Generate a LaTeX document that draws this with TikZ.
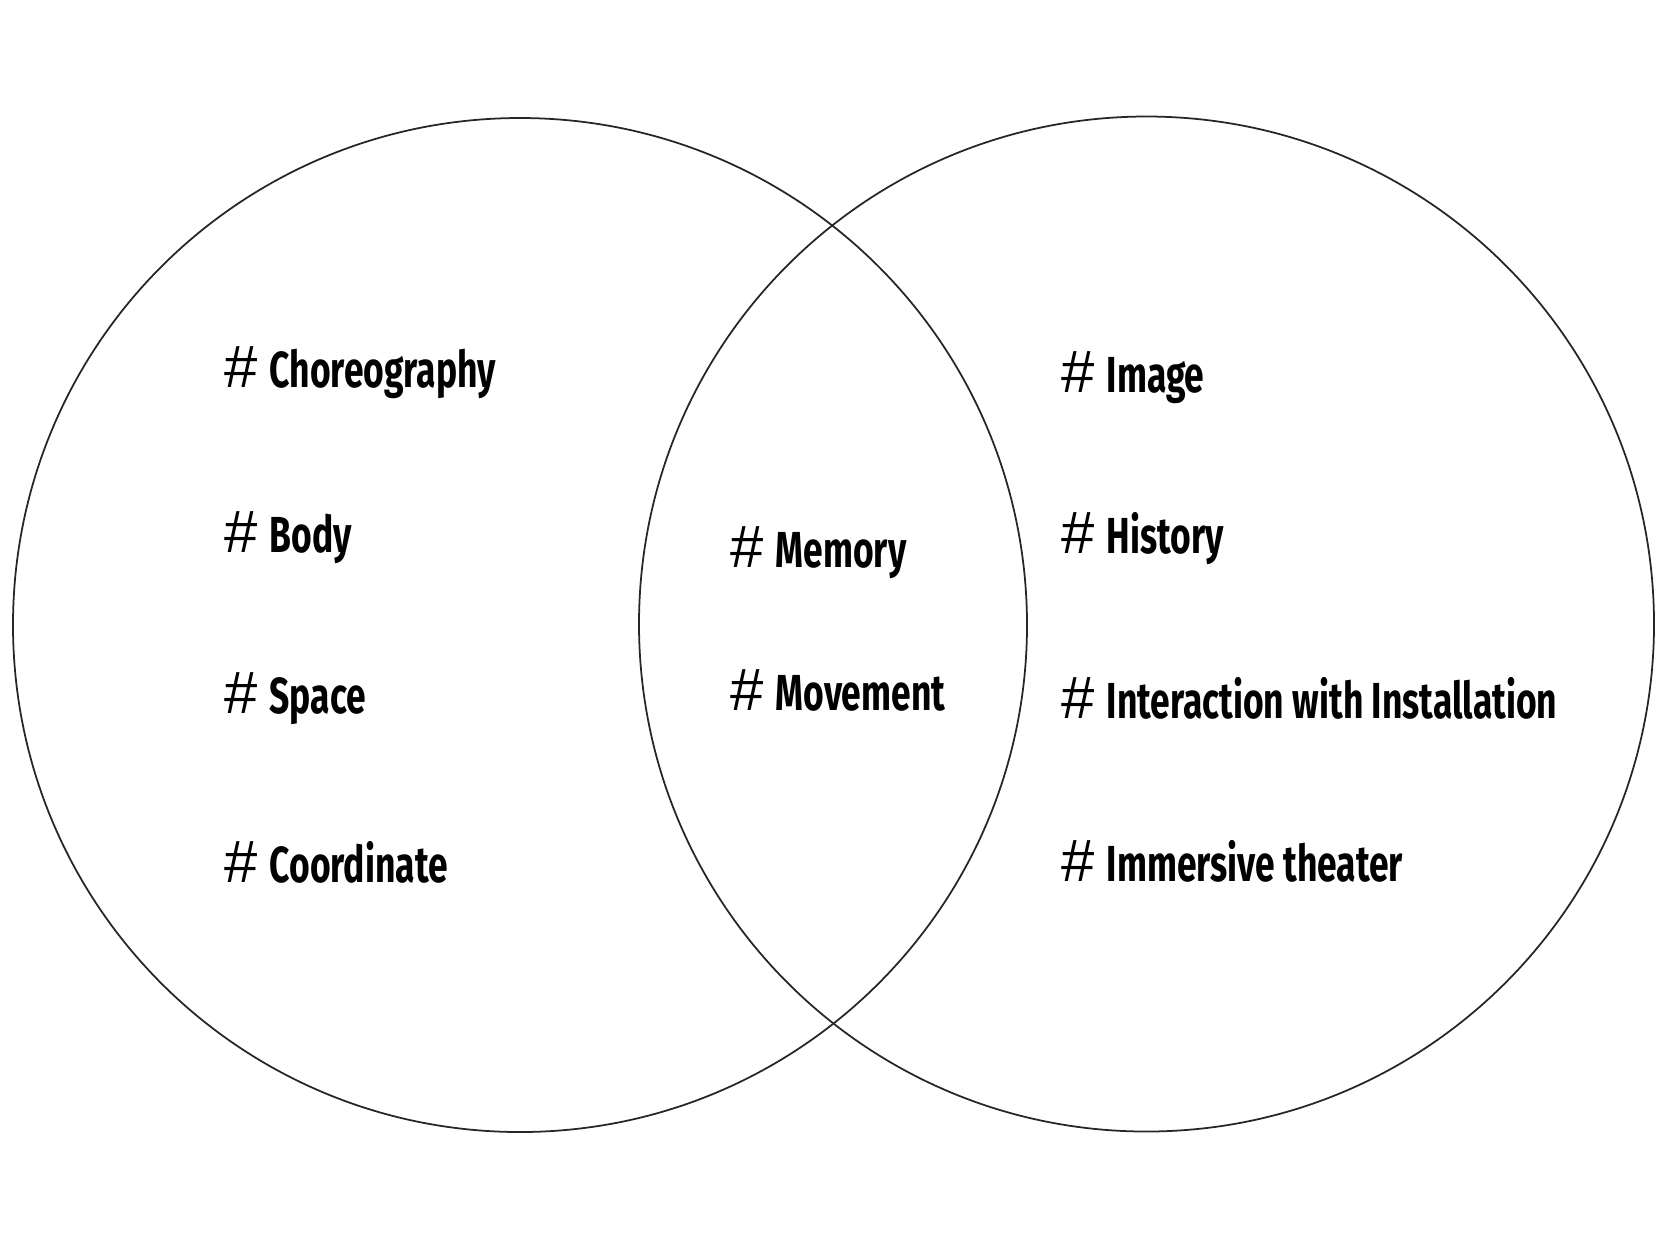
\documentclass[tikz,border=0pt]{standalone}
\usepackage{fontspec}
\setmainfont{Fira Sans}[FakeStretch=0.70]
\newfontfamily\hashfont{Liberation Sans}
\usepackage{tikz}
\usetikzlibrary{positioning}

\newcommand{\hashtag}[1]{\makebox[12.8pt][l]{\hashfont\fontsize{17}{18}\selectfont\mdseries\#}#1}
\tikzset{
    venn/.style={line width=0.5pt, black!85},
    tagnode/.style={anchor=base west, inner sep=0pt, font=\fontsize{14.4}{16}\selectfont\bfseries}
}

\begin{document}
\begin{tikzpicture}[x=0.01cm, y=-0.01cm]
    \useasboundingbox (0,0) rectangle (1667,1250);

    % the two sets
    \draw[venn] (520,625) circle (507);
    \draw[venn] (1146.5,624) circle (507.5);

    % left set
    \node[tagnode] (choreo) at (224,387) {\hashtag{Choreography}};
    \node[tagnode] (body) at (224,552) {\hashtag{Body}};
    \node[tagnode] (space) at (224,713) {\hashtag{Space}};
    \node[tagnode] (coord) at (224,882) {\hashtag{Coordinate}};

    % overlap
    \node[tagnode] (memory) at (730,567) {\hashtag{Memory}};
    \node[tagnode] (movement) at (730,710) {\hashtag{Movement}};

    % right set
    \node[tagnode] (image) at (1061,392) {\hashtag{Image}};
    \node[tagnode] (history) at (1061,553) {\hashtag{History}};
    \node[tagnode] (interact) at (1061,718) {\hashtag{Interaction with Installation}};
    \node[tagnode] (immersive) at (1061,881) {\hashtag{Immersive theater}};
\end{tikzpicture}
\end{document}
